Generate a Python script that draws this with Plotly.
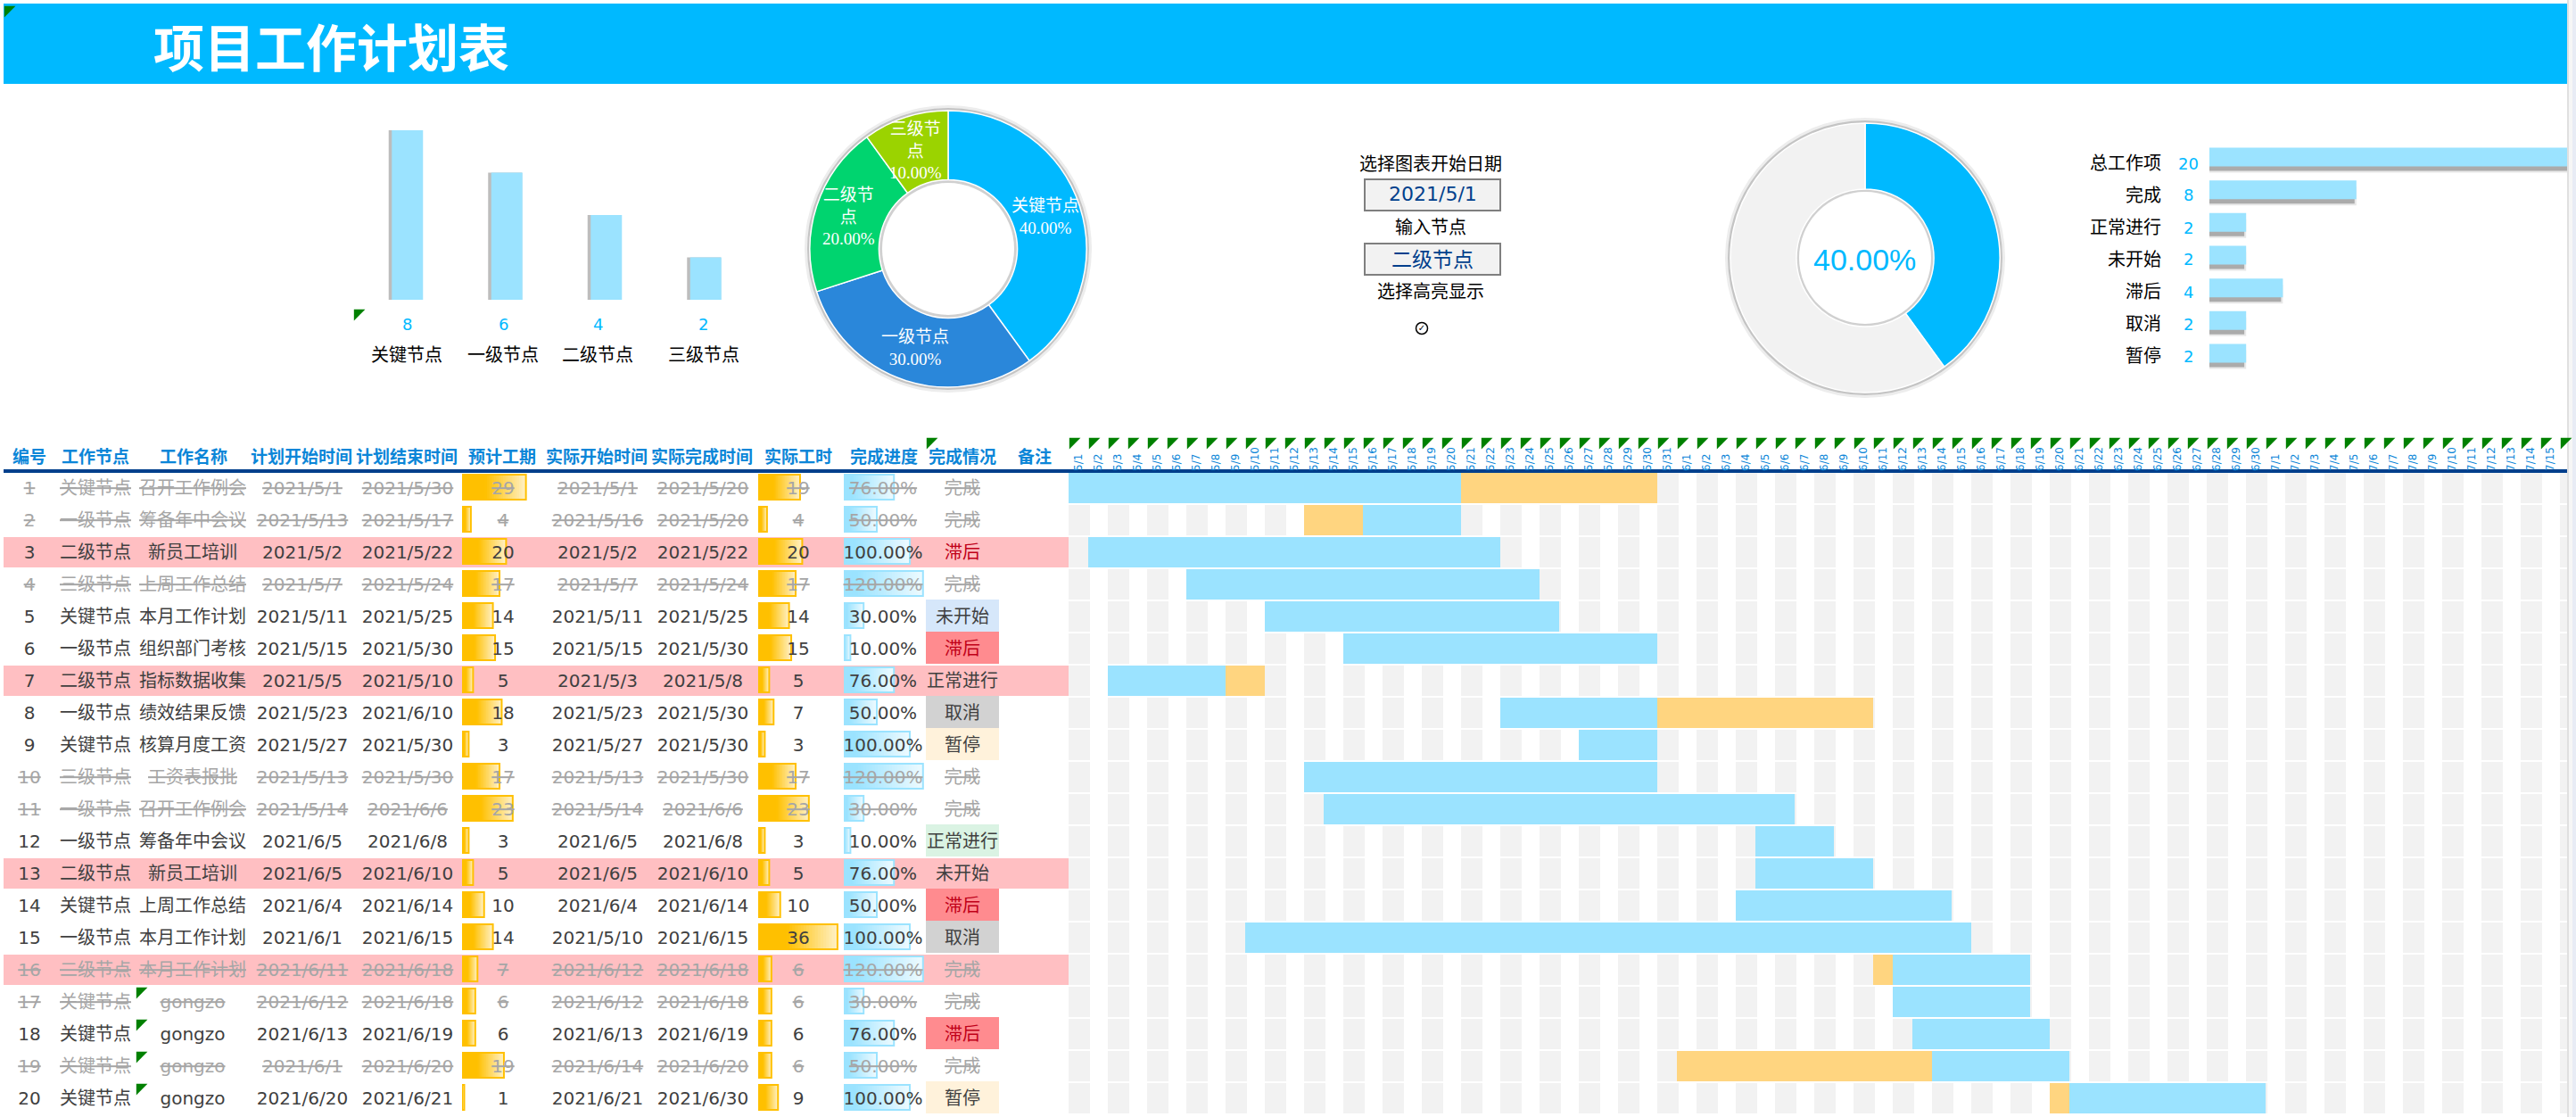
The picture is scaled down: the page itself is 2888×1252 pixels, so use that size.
import pandas as pd
import plotly.graph_objects as go

W, H = 2888, 1252

rows = list(range(1, 21))
nodes = ["关键节点", "一级节点", "二级节点", "三级节点", "关键节点", "一级节点", "二级节点", "一级节点", "关键节点", "三级节点",
         "一级节点", "一级节点", "二级节点", "关键节点", "一级节点", "二级节点", "关键节点", "关键节点", "关键节点", "关键节点"]
names = ["召开工作例会", "筹备年中会议", "新员工培训", "上周工作总结", "本月工作计划", "组织部门考核", "指标数据收集", "绩效结果反馈",
         "核算月度工资", "工资表报批", "召开工作例会", "筹备年中会议", "新员工培训", "上周工作总结", "本月工作计划", "本月工作计划",
         "gongzo", "gongzo", "gongzo", "gongzo"]
plan_start = ["2021/5/1", "2021/5/13", "2021/5/2", "2021/5/7", "2021/5/11", "2021/5/15", "2021/5/5", "2021/5/23", "2021/5/27", "2021/5/13",
              "2021/5/14", "2021/6/5", "2021/6/5", "2021/6/4", "2021/6/1", "2021/6/11", "2021/6/12", "2021/6/13", "2021/6/1", "2021/6/20"]
plan_end = ["2021/5/30", "2021/5/17", "2021/5/22", "2021/5/24", "2021/5/25", "2021/5/30", "2021/5/10", "2021/6/10", "2021/5/30", "2021/5/30",
            "2021/6/6", "2021/6/8", "2021/6/10", "2021/6/14", "2021/6/15", "2021/6/18", "2021/6/18", "2021/6/19", "2021/6/20", "2021/6/21"]
plan_days = [29, 4, 20, 17, 14, 15, 5, 18, 3, 17, 23, 3, 5, 10, 14, 7, 6, 6, 19, 1]
actual_start = ["2021/5/1", "2021/5/16", "2021/5/2", "2021/5/7", "2021/5/11", "2021/5/15", "2021/5/3", "2021/5/23", "2021/5/27", "2021/5/13",
                "2021/5/14", "2021/6/5", "2021/6/5", "2021/6/4", "2021/5/10", "2021/6/12", "2021/6/12", "2021/6/13", "2021/6/14", "2021/6/21"]
actual_end = ["2021/5/20", "2021/5/20", "2021/5/22", "2021/5/24", "2021/5/25", "2021/5/30", "2021/5/8", "2021/5/30", "2021/5/30", "2021/5/30",
              "2021/6/6", "2021/6/8", "2021/6/10", "2021/6/14", "2021/6/15", "2021/6/18", "2021/6/18", "2021/6/19", "2021/6/20", "2021/6/30"]
actual_days = [19, 4, 20, 17, 14, 15, 5, 7, 3, 17, 23, 3, 5, 10, 36, 6, 6, 6, 6, 9]
progress = [76, 50, 100, 120, 30, 10, 76, 50, 100, 120, 30, 10, 76, 50, 100, 120, 30, 76, 50, 100]
status = ["完成", "完成", "滞后", "完成", "未开始", "滞后", "正常进行", "取消", "暂停", "完成",
          "完成", "正常进行", "未开始", "滞后", "取消", "完成", "完成", "滞后", "完成", "暂停"]
headers = ["编号", "工作节点", "工作名称", "计划开始时间", "计划结束时间", "预计工期", "实际开始时间", "实际完成时间",
           "实际工时", "完成进度", "完成情况", "备注"]

node_names = ["关键节点", "一级节点", "二级节点", "三级节点"]
node_counts = [8, 6, 4, 2]
node_shares = [40, 30, 20, 10]
node_pie_labels = ["关键节点<br>40.00%", "一级节点<br>30.00%", "二级节<br>点<br>20.00%", "三级节<br>点<br>10.00%"]
done_share = [40, 60]
summary_names = ["总工作项", "完成", "正常进行", "未开始", "滞后", "取消", "暂停"]
summary_counts = [20, 8, 2, 2, 4, 2, 2]

BLUE = "#00B9FF"
LIGHT = "#9BE3FF"
ORANGE = "#FFD580"
GOLD = "#FFC000"
NAVY = "#003F8C"
HEAD = "#0B86D8"
BODY = "#404040"
DONE = "#A6A6A6"
FONT = "DejaVu Sans, Noto Sans CJK SC"
CJK = "Noto Sans CJK SC"
status_fill = {"未开始": "#D6E7FA", "滞后": "#FF8B8F", "取消": "#D2D2D2", "暂停": "#FFF2DB", "正常进行": "#DAF3E3"}
pink_rows = [3, 7, 13, 16]


def px(x):
    return x / W


def py(y):
    return 1 - y / H


def rect(x0, y0, x1, y1, color, kind="rect"):
    return dict(type=kind, xref="paper", yref="paper", x0=px(x0), x1=px(x1), y0=py(y1), y1=py(y0),
                fillcolor=color, line_width=0, layer="below")


def label(x, y, text, size=20, color="#000000", anchor="center", family=FONT):
    return dict(xref="paper", yref="paper", x=px(x), y=py(y), text=text, showarrow=False, xanchor=anchor,
                yanchor="middle", font=dict(size=size, color=color, family=family))


def blend(c1, c2, t):
    a = [int(c1[i:i + 2], 16) for i in (1, 3, 5)]
    b = [int(c2[i:i + 2], 16) for i in (1, 3, 5)]
    return "rgb(%d,%d,%d)" % tuple(round(p + (q - p) * t) for p, q in zip(a, b))


def hidden(x0, x1, rng, anchor):
    return dict(domain=[x0 / W, x1 / W], range=rng, visible=False, fixedrange=True, anchor=anchor)


def hidden_y(y0, y1, rng, anchor):
    return dict(domain=[py(y1), py(y0)], range=rng, visible=False, fixedrange=True, anchor=anchor)


fig = go.Figure()

# gantt
day0 = pd.Timestamp("2021/5/1")
def day_index(s):
    return (pd.Timestamp(s) - day0).days

stripe_days = list(range(0, 77, 2))
fig.add_trace(go.Bar(y=[r for r in rows for d in stripe_days], x=[24 / 22] * (20 * len(stripe_days)),
                     base=[d for r in rows for d in stripe_days], orientation="h", width=34 / 36, offset=-17 / 36,
                     marker=dict(color="#F2F2F2", line_width=0), hoverinfo="skip"))
blue_base, blue_len, orange_y, orange_base, orange_len = [], [], [], [], []
for i in range(20):
    ps, pe = day_index(plan_start[i]), day_index(plan_end[i]) + 1
    s, e = day_index(actual_start[i]), day_index(actual_end[i]) + 1
    blue_base.append(s)
    blue_len.append(e - s)
    if ps < s:
        orange_y.append(rows[i]); orange_base.append(ps); orange_len.append(s - ps)
    if pe > e:
        orange_y.append(rows[i]); orange_base.append(e); orange_len.append(pe - e)
fig.add_trace(go.Bar(y=orange_y, x=orange_len, base=orange_base, orientation="h", width=34 / 36, offset=-17 / 36,
                     marker=dict(color=ORANGE, line_width=0), hoverinfo="skip"))
fig.add_trace(go.Bar(y=rows, x=blue_len, base=blue_base, orientation="h", width=34 / 36, offset=-17 / 36,
                     marker=dict(color=LIGHT, line_width=0), hoverinfo="skip"))


# data bars inside the table cells, painted back to front so the fade has no seams
def data_bar(values, axis, solid, pale, hold):
    steps = 28
    for k in range(steps):
        t = k / steps
        c = solid if t < hold else blend(solid, pale, (t - hold) / (1 - hold))
        fig.add_trace(go.Bar(y=rows, x=[v * (1 - t) for v in values], base=[v * t for v in values], orientation="h",
                             xaxis=axis, width=28 / 36, offset=-15 / 36, marker=dict(color=c, line_width=0),
                             hoverinfo="skip"))
    fig.add_trace(go.Bar(y=rows, x=values, orientation="h", xaxis=axis, width=28 / 36, offset=-15 / 36,
                         marker=dict(color="rgba(0,0,0,0)", line=dict(color=solid, width=2)), hoverinfo="skip"))


data_bar(plan_days, "x2", GOLD, "#FFF2CC", 0.35)
data_bar(actual_days, "x3", GOLD, "#FFF2CC", 0.35)
data_bar(progress, "x4", LIGHT, "#F0FBFF", 0.15)

# table text
done = [s == "完成" for s in status]
colors = [DONE if d else BODY for d in done]
text_y = [r + 1.5 / 36 for r in rows]


def mark(values):
    return [f"<s>{v}</s>" if d else f"{v}" for v, d in zip(values, done)]


columns = [(33, rows), (107, nodes), (216, names), (339, plan_start), (457, plan_end), (564, plan_days),
           (670, actual_start), (788, actual_end), (895, actual_days), (990, [f"{p}.00%" for p in progress])]
for x, values in columns:
    fig.add_trace(go.Scatter(x=[x] * 20, y=text_y, xaxis="x5", mode="text", text=mark(values), cliponaxis=False,
                             textfont=dict(size=20, family=FONT, color=colors), hoverinfo="skip"))
status_colors = ["#C00018" if s == "滞后" else c for s, c in zip(status, colors)]
fig.add_trace(go.Scatter(x=[1079] * 20, y=text_y, xaxis="x5", mode="text", text=mark(status), cliponaxis=False,
                         textfont=dict(size=20, family=FONT, color=status_colors), hoverinfo="skip"))

# top left column chart
fig.add_trace(go.Bar(x=node_names, y=node_counts, xaxis="x6", yaxis="y2", width=38 / 111.5, offset=-21 / 111.5,
                     marker=dict(color="#BDBDBD", line_width=0), hoverinfo="skip"))
fig.add_trace(go.Bar(x=node_names, y=node_counts, xaxis="x6", yaxis="y2", width=35 / 111.5, offset=-17.5 / 111.5,
                     marker=dict(color=LIGHT, line_width=0), hoverinfo="skip"))

# top right summary bars
fig.add_trace(go.Bar(y=summary_names, x=summary_counts, xaxis="x7", yaxis="y3", orientation="h", width=21 / 36.67,
                     offset=-3.5 / 36.67, marker=dict(color="#E8E8E8", line_width=0), hoverinfo="skip"))
fig.add_trace(go.Bar(y=summary_names, x=[c - 0.1 for c in summary_counts], xaxis="x7", yaxis="y3", orientation="h",
                     width=21 / 36.67, offset=-5.5 / 36.67, marker=dict(color="#ABABAB", line_width=0), hoverinfo="skip"))
fig.add_trace(go.Bar(y=summary_names, x=summary_counts, xaxis="x7", yaxis="y3", orientation="h", width=21 / 36.67,
                     offset=-10.5 / 36.67, marker=dict(color=LIGHT, line_width=0), hoverinfo="skip"))

# donuts
fig.add_trace(go.Pie(values=node_shares, labels=node_names, hole=0.5, sort=False, direction="clockwise", rotation=0,
                     textinfo="none", hoverinfo="skip", showlegend=False,
                     domain=dict(x=[px(1063 - 155), px(1063 + 155)], y=[py(279 + 155), py(279 - 155)]),
                     marker=dict(colors=[BLUE, "#2A87DA", "#00D46F", "#9BD300"], line=dict(color="#FFFFFF", width=1.5))))
fig.add_trace(go.Pie(values=done_share, labels=["完成", "其他"], hole=0.51, sort=False, direction="clockwise", rotation=0,
                     textinfo="none", hoverinfo="skip", showlegend=False,
                     domain=dict(x=[px(2091 - 151), px(2091 + 151)], y=[py(289 + 151), py(289 - 151)]),
                     marker=dict(colors=[BLUE, "#F2F2F2"], line=dict(color="#FFFFFF", width=1.5))))

# corner flags and the check mark
flags_x = [4, 396, 1038] + [152] * 4 + [1198 + 22 * d for d in range(77)]
flags_y = [6, 346, 490] + [1106, 1142, 1178, 1214] + [490] * 77
fig.add_trace(go.Scatter(x=[v + 5 for v in flags_x], y=[v + 5 for v in flags_y], xaxis="x8", yaxis="y4", mode="markers",
                         marker=dict(symbol="triangle-nw", size=14, color="#008000", line_width=0), hoverinfo="skip"))
fig.add_trace(go.Scatter(x=[1594], y=[368], xaxis="x8", yaxis="y4", mode="markers+text", text=["✓"],
                         textposition="middle center", textfont=dict(size=10, color="#000000", family=FONT),
                         marker=dict(symbol="circle-open", size=13, color="#000000", line_width=1.5), hoverinfo="skip"))

shapes = [rect(4, 4, 2878, 94, BLUE),
          rect(2878, 0, 2880, H, "#E0E0E0"), rect(2880, 0, 2884, H, "#F6F6F6"), rect(2884, 0, 2888, H, "#E8ECF5"),
          rect(4, 526, 2878, 530, NAVY)]
for c in (1063, 2091):
    r = 155 if c == 1063 else 151
    cy = 279 if c == 1063 else 289
    shapes.append(rect(c - r - 6, cy - r - 6, c + r + 6, cy + r + 6, "#EDEDED", "circle"))
    shapes.append(rect(c - r - 3, cy - r - 3, c + r + 3, cy + r + 3, "#C4C4C4", "circle"))
    shapes.append(rect(c - 79, cy - 79, c + 79, cy + 79, "#D0D0D0", "circle"))
    shapes.append(rect(c - 74, cy - 74, c + 74, cy + 74, "#FFFFFF", "circle"))
for r, s in zip(rows, status):
    if s in status_fill and r not in pink_rows:
        top = 530 + 36 * (r - 1)
        shapes.append(rect(1038, top - 2, 1120, top + 34, status_fill[s]))
for r in pink_rows:
    top = 530 + 36 * (r - 1)
    shapes.append(rect(4, top, 1200, top + 34, "#FFBFC2"))
shapes += [rect(1529, 200, 1683, 237, "#7F7F7F"), rect(1531, 202, 1681, 235, "#F2F2F2"),
           rect(1529, 272, 1683, 309, "#7F7F7F"), rect(1531, 274, 1681, 307, "#F2F2F2")]

annotations = [label(170, 50, "<b>项目工作计划表</b>", 57, "#FFFFFF", "left", CJK)]
header_x = [33, 107, 217, 338, 456, 563, 669, 787, 895, 991, 1079, 1160]
for x, h in zip(header_x, headers):
    annotations.append(label(x, 510, f"<b>{h}</b>", 19, HEAD, family=CJK))
for x, v, n in zip([456, 564, 670, 789], node_counts, node_names):
    annotations.append(label(x, 363, str(v), 18, BLUE))
    annotations.append(label(x, 398, n, 20))
for x, y, t in zip([1172, 1026, 951, 1026], [243, 390, 243, 169], node_pie_labels):
    annotations.append(label(x, y, t, 19, "#FFFFFF", family="Liberation Serif, Noto Sans CJK SC"))
annotations.append(label(2090, 291, f"{done_share[0]}.00%", 34, BLUE, family="Liberation Sans"))
annotations += [label(1604, 184, "选择图表开始日期"), label(1604, 255, "输入节点"), label(1604, 327, "选择高亮显示"),
                label(1606, 218, plan_start[0], 22, NAVY), label(1606, 289, node_names[2], 23, NAVY, family=CJK)]
for i, (n, v) in enumerate(zip(summary_names, summary_counts)):
    y = [183, 219, 255, 291, 327, 363, 399][i]
    annotations.append(label(2425, y, n, 20, anchor="right"))
    annotations.append(label(2453, y, str(v), 18, BLUE))

day_list = pd.date_range("2021/5/1", periods=76)
layout_axes = dict(
    xaxis=dict(domain=[1198 / W, 2878 / W], range=[0, 1680 / 22], side="top", anchor="y", fixedrange=True,
               tickmode="array", tickvals=[d + 0.5 for d in range(76)],
               ticktext=[f"{d.month}/{d.day}" for d in day_list], tickangle=-90, ticks="", showgrid=False,
               zeroline=False, showline=False, tickfont=dict(size=12, color=HEAD, family="DejaVu Sans")),
    yaxis=hidden_y(529, 1249, [20.5, 0.5], "x"),
    xaxis2=hidden(518, 1118, [0, 600 / 2.47], "y"),
    xaxis3=hidden(850, 1050, [0, 200 / 2.47], "y"),
    xaxis4=hidden(946, 1146, [0, 200 / 0.74], "y"),
    xaxis5=hidden(0, W, [0, W], "y"),
    xaxis6=dict(hidden(401, 847, [-0.5, 3.5], "y2"), type="category", categoryorder="array", categoryarray=node_names),
    yaxis2=hidden_y(146, 336, [0, 8], "x6"),
    xaxis7=hidden(2477, 2878, [0, 401 / 20.6], "y3"),
    yaxis3=dict(hidden_y(157.67, 414.33, [6.5, -0.5], "x7"), type="category", categoryorder="array", categoryarray=summary_names),
    xaxis8=hidden(0, W, [0, W], "y4"),
    yaxis4=hidden_y(0, H, [H, 0], "x8"),
)
fig.update_layout(width=W, height=H, margin=dict(l=0, r=0, t=0, b=0), paper_bgcolor="#FFFFFF", plot_bgcolor="rgba(0,0,0,0)",
                  barmode="overlay", showlegend=False, shapes=shapes, annotations=annotations, **layout_axes)
# the page keeps its default 8px body margin otherwise
fig.write_html("out.html", config={"displayModeBar": False}, post_script="document.body.style.margin = '0';")
